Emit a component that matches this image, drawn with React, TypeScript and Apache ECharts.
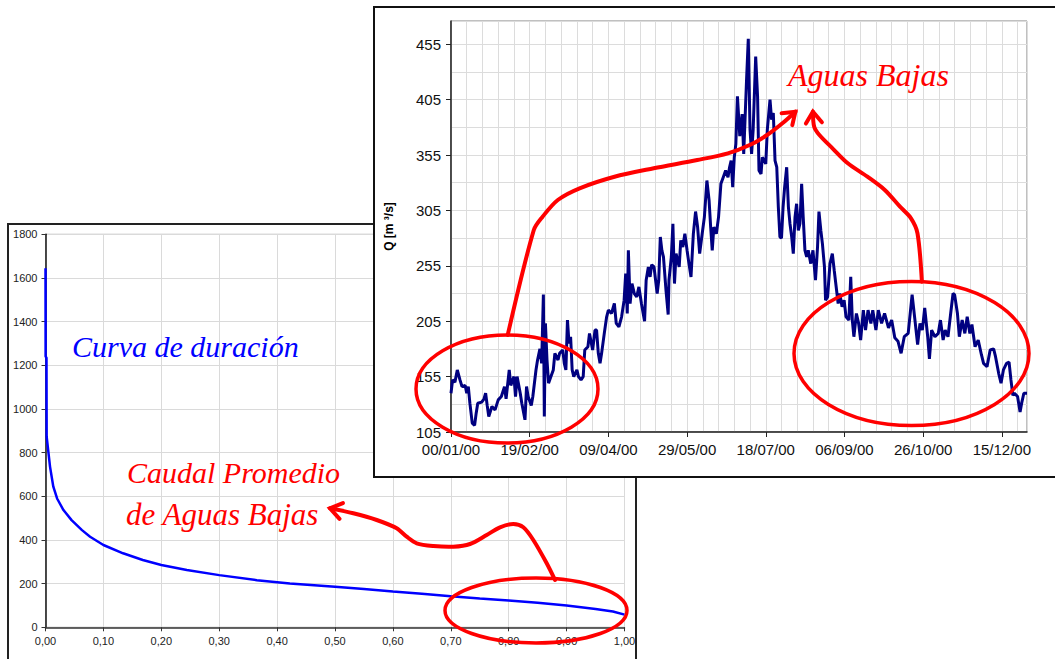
import React, { useEffect, useRef } from 'react';
import * as echarts from 'echarts';

// ---- Duration curve (left chart) ----
const durationFraction = [0, 0.0002, 0.0017, 0.0019, 0.002, 0.0078, 0.0135, 0.02, 0.031, 0.045, 0.063, 0.077, 0.1, 0.134, 0.168, 0.2, 0.244, 0.3, 0.365, 0.422, 0.5, 0.55, 0.6, 0.65, 0.7, 0.75, 0.8, 0.85, 0.9, 0.95, 0.98, 1.0];
const durationFlow = [1645, 1240, 1235, 980, 873, 736, 644, 590, 537, 491, 445, 415, 377, 339, 308, 285, 262, 239, 216, 201, 186, 175, 164, 154, 142, 132, 123, 112, 100, 84, 72, 58];

// ---- Daily discharge 2000 (right chart): [day, Q m3/s] ----
const flowJanMar: number[][] = [[0,140],[1,152],[2.5,150],[4,161],[5.7,152],[7,146],[9,147],[10,140],[11,146],[12,131],[13.5,113],[15,111],[16,122],[17,131],[19.5,132],[21,135],[22,140],[23,129],[24,119],[26,128],[28,125],[30,134],[32,137],[34,146],[35,135],[37,161],[38,147],[40,155],[41,137],[42,155],[44,140],[45,131],[47,116],[48,146],[49,137],[51,129],[52,137],[54,161],[55,170],[56.5,180],[57.6,167],[58.7,229],[59.3,119],[60,203],[61,170],[62,149],[63.5,155],[65,161],[66,176],[68,170],[69,176],[71,179],[72,167],[73,161],[74,206],[75,185],[76,191],[77,161],[78,155],[80,161],[81,155],[82.6,152],[84,155],[85,179],[87,182],[88,194],[90,179],[91.5,197]];
const flowAprJun: number[][] = [[92.5,197],[93.6,176],[94.7,167],[95.7,176],[97.4,194],[98.9,209],[100,215],[102,212],[103.8,221],[105,203],[106.7,200],[108.4,209],[110,224],[111,248],[112,212],[112.7,269],[113.8,221],[115,239],[116.5,230],[118,227],[119.4,236],[121,221],[123,205],[124,242],[125.4,254],[126.5,245],[127.5,256],[129,254],[131,230],[132,242],[133,281],[134,269],[135,263],[136.6,233],[138,211],[138.5,242],[140,263],[141,293],[142,239],[143,266],[145,254],[146,278],[147.3,272],[148.6,284],[150,269],[151.2,257],[152.5,245],[154,284],[155.4,304],[156.7,290],[158,266],[159.6,284],[161,299],[162.6,332],[164,314],[165,290],[166,269],[167,290],[168.6,284],[170,299],[171.5,329],[173,335],[174.5,341],[176,335],[177,344],[178,350],[179,326],[180,353],[181,365]];
const flowJulSep: number[][] = [[182,408],[183.5,372],[185,392],[186,356],[187.8,423],[188.9,460],[190,378],[191,356],[192,378],[193.6,444],[194.8,408],[195.7,341],[197,338],[197.8,353],[199,350],[200,347],[201,378],[202.7,405],[203.7,387],[204.8,393],[205.9,350],[207,344],[208,308],[209,281],[210,280],[211,308],[212,326],[213.3,344],[214.4,308],[215.4,293],[216.5,281],[217.5,266],[218.6,299],[219.6,311],[220.7,287],[221.7,293],[222.8,329],[223.8,299],[224.9,269],[226,263],[227,269],[228.6,257],[230,269],[231.6,242],[232.9,272],[233.8,304],[235,287],[236,275],[237.3,254],[238,224],[239.3,227],[240.8,257],[242.3,266],[243.5,251],[245,233],[246,221],[247,230],[248.5,218],[249.8,224],[251,209],[252.8,206],[254,245],[255,206],[256,191],[257.6,212],[259,203],[260.3,188],[262,215],[263.4,197],[265,215],[266.8,203],[268,215],[270,197]];
const flowOctDec: number[][] = [[271.5,215],[273.6,203],[275.5,212],[278,199],[280,206],[282,190],[284,187],[286,176],[288,191],[290.5,194],[293,229],[294.8,206],[296.5,184],[298,203],[299.5,197],[301,217],[302.9,191],[304,171],[305.4,197],[307.5,191],[309.6,194],[311,206],[312.7,188],[314,197],[315.8,191],[317.5,212],[319,230],[320,229],[321.8,212],[323,191],[324.8,206],[326.5,194],[328,209],[329.7,194],[331,202],[333,182],[335,188],[337,175],[338.4,167],[340.6,164],[342.6,179],[344.8,180],[346,173],[348,158],[349.5,149],[351,161],[353,167],[354.6,168],[355.8,152],[357,138],[358,140],[360,137],[361.6,123],[362.6,131],[364,140],[366,140]];

const dateTickDays = [0, 50, 100, 150, 200, 250, 300, 350];
const dateTickLabels = ['00/01/00', '19/02/00', '09/04/00', '29/05/00', '18/07/00', '06/09/00', '26/10/00', '15/12/00'];
const qTickValues = [105, 155, 205, 255, 305, 355, 405, 455];

const sans = '"Liberation Sans", Arial, sans-serif';
const serifItalic = (size: number) => `italic ${size}px "Liberation Serif", "Times New Roman", serif`;
const RED = '#ff0000';

function buildOption() {
  const flowData = [...flowJanMar, ...flowAprJun, ...flowJulSep, ...flowOctDec];
  const durationData = durationFraction.map((f, i) => [f, durationFlow[i]]);

  const redLine = { fill: null, stroke: RED, lineWidth: 4, lineCap: 'round', lineJoin: 'round' };
  const txt = (text: string, x: number, y: number, size: number, color: string) => ({
    type: 'text', x, y, z: 20,
    style: { text, fill: color, font: serifItalic(size), textAlign: 'left', align: 'left', textVerticalAlign: 'middle', verticalAlign: 'middle' },
  });

  return {
    animation: false,
    backgroundColor: '#ffffff',
    grid: [
      { left: 45.5, top: 234.3, width: 579, height: 393, show: true, borderColor: '#a6a6a6', borderWidth: 1, backgroundColor: 'transparent', z: 1 },
      { left: 451, top: 21, width: 576, height: 411, show: true, borderColor: '#808080', borderWidth: 1, backgroundColor: 'transparent', z: 11 },
    ],
    xAxis: [
      {
        type: 'value', gridIndex: 0, position: 'bottom', min: 0, max: 1, interval: 0.1, z: 2,
        axisLine: { show: true, onZero: false, lineStyle: { color: '#333', width: 1.5 } },
        axisTick: { show: true, length: 4, lineStyle: { color: '#333' } },
        axisLabel: { fontSize: 11, fontFamily: sans, color: '#222', margin: 8, formatter: (v: number) => v.toFixed(2).replace('.', ',') },
        splitLine: { show: true, lineStyle: { color: '#dadada', width: 1 } },
      },
      {
        type: 'value', gridIndex: 1, position: 'bottom', min: 0, max: 366, interval: 10, z: 11,
        axisLine: { show: false }, axisTick: { show: false }, axisLabel: { show: false },
        splitLine: { show: true, lineStyle: { color: '#dcdcdc', width: 1 } },
      },
      {
        type: 'value', gridIndex: 1, position: 'bottom', min: 0, max: 366, interval: 50, z: 13,
        axisLine: { show: true, onZero: false, lineStyle: { color: '#222', width: 1.5 } },
        axisTick: { show: true, length: 5, customValues: dateTickDays, lineStyle: { color: '#222' } },
        axisLabel: {
          customValues: dateTickDays, fontSize: 15, fontFamily: sans, color: '#111', margin: 10,
          formatter: (v: number) => (v % 50 === 0 && v <= 350 ? dateTickLabels[v / 50] : ''),
        },
        splitLine: { show: false },
      },
    ],
    yAxis: [
      {
        type: 'value', gridIndex: 0, position: 'left', min: 0, max: 1800, interval: 200, z: 2,
        axisLine: { show: true, onZero: false, lineStyle: { color: '#111', width: 1.5 } },
        axisTick: { show: true, length: 4, lineStyle: { color: '#333' } },
        axisLabel: { fontSize: 11, fontFamily: sans, color: '#222', margin: 8, formatter: (v: number) => String(v) },
        splitLine: { show: true, lineStyle: { color: '#dadada', width: 1 } },
      },
      {
        type: 'value', gridIndex: 1, position: 'left', min: 105, max: 476, interval: 25, z: 11,
        axisLine: { show: false }, axisTick: { show: false }, axisLabel: { show: false },
        splitLine: { show: true, lineStyle: { color: '#dcdcdc', width: 1 } },
      },
      {
        type: 'value', gridIndex: 1, position: 'left', min: 105, max: 476, interval: 50, z: 13,
        name: 'Q [m ³/s]', nameLocation: 'middle', nameGap: 56, nameRotate: 90,
        nameTextStyle: { fontSize: 12, fontWeight: 'bold', fontFamily: sans, color: '#000' },
        axisLine: { show: true, onZero: false, lineStyle: { color: '#222', width: 1.5 } },
        axisTick: { show: true, length: 5, customValues: qTickValues, lineStyle: { color: '#222' } },
        axisLabel: {
          customValues: qTickValues, fontSize: 15, fontFamily: sans, color: '#111', margin: 10,
          formatter: (v: number) => ((v - 105) % 50 === 0 && v <= 455 ? String(v) : ''),
        },
        splitLine: { show: false },
      },
    ],
    series: [
      {
        type: 'line', xAxisIndex: 0, yAxisIndex: 0, data: durationData, symbol: 'none', z: 3,
        lineStyle: { color: '#0000ff', width: 2.5 },
      },
      {
        type: 'line', xAxisIndex: 2, yAxisIndex: 2, data: flowData, symbol: 'none', z: 14,
        lineStyle: { color: '#000080', width: 3 },
      },
    ],
    graphic: {
      elements: [
        { type: 'rect', z: 0, shape: { x: 8, y: 224, width: 628, height: 470 }, style: { fill: 'transparent', stroke: '#222', lineWidth: 2 } },
        { type: 'rect', z: 10, shape: { x: 374, y: 7, width: 720, height: 470 }, style: { fill: '#ffffff', stroke: '#111', lineWidth: 2 } },
        // ellipses
        { type: 'ellipse', z: 20, shape: { cx: 507, cy: 389, rx: 91, ry: 54 }, style: { fill: 'transparent', stroke: RED, lineWidth: 3.5 } },
        { type: 'ellipse', z: 20, shape: { cx: 911.5, cy: 353.5, rx: 117.5, ry: 72 }, style: { fill: 'transparent', stroke: RED, lineWidth: 3.5 } },
        { type: 'ellipse', z: 20, shape: { cx: 536, cy: 610.5, rx: 91, ry: 32.5 }, style: { fill: 'transparent', stroke: RED, lineWidth: 3.5 } },
        // arrow A: left ellipse -> Aguas Bajas
        { type: 'polyline', z: 20, shape: { points: [[507.7, 335], [533.8, 230], [542.6, 216.7], [557.8, 200], [579.6, 188.3], [614.5, 176.7], [653.7, 168.3], [697.3, 160], [727.9, 153.3], [749.7, 145], [767.1, 135], [782.4, 123.3], [795.4, 111.7]], smooth: 0.3 }, style: redLine },
        { type: 'polyline', z: 20, shape: { points: [[781.6, 113.2], [795.4, 111.7], [792.3, 125.1]] }, style: { ...redLine, lineJoin: 'miter' } },
        // arrow B: right ellipse -> Aguas Bajas
        { type: 'polyline', z: 20, shape: { points: [[921.9, 281.7], [917.5, 233.3], [911, 218.3], [900, 206.7], [884.8, 190], [867.4, 176.7], [847.8, 163.3], [832.5, 148.3], [819.4, 135], [814.2, 126.7], [812.9, 111.7]], smooth: 0.3 }, style: redLine },
        { type: 'polyline', z: 20, shape: { points: [[805.9, 123.6], [812.9, 111.7], [821.9, 122.3]] }, style: { ...redLine, lineJoin: 'miter' } },
        // arrow C: duration ellipse -> Caudal Promedio
        { type: 'polyline', z: 20, shape: { points: [[555, 580], [546.7, 563.3], [533.3, 540], [523.3, 527.3], [513.3, 524], [500, 527.3], [486.7, 535], [470, 544], [453.3, 546.7], [433.3, 546], [416.7, 543.3], [406.7, 536.7], [396.7, 528.3], [376.7, 520], [353.3, 513.3], [330, 508.3]], smooth: 0.3 }, style: redLine },
        { type: 'polyline', z: 20, shape: { points: [[342.9, 503.1], [330, 508.3], [339.5, 518.8]] }, style: { ...redLine, lineJoin: 'miter' } },
        // texts
        txt('Aguas Bajas', 788, 75, 32, RED),
        txt('Curva de duración', 72, 346, 30, '#0000ff'),
        txt('Caudal Promedio', 127, 472, 30, RED),
        txt('de Aguas Bajas', 126, 514, 31, RED),
      ],
    },
  };
}

export default function App() {
  const ref = useRef<HTMLDivElement>(null);
  useEffect(() => {
    if (!ref.current) return;
    const chart = echarts.init(ref.current, null, { renderer: 'svg' });
    chart.setOption(buildOption() as any);
    return () => chart.dispose();
  }, []);
  return (
    <div
      ref={ref}
      style={{ position: 'fixed', left: 0, top: 0, width: 1055, height: 659, background: '#ffffff' }}
    />
  );
}
